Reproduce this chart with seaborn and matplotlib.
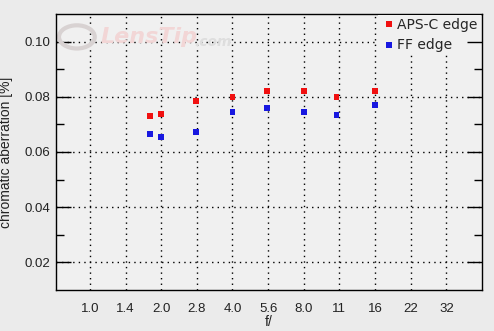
import numpy as np
import pandas as pd
import matplotlib
matplotlib.use("Agg")
import matplotlib.pyplot as plt
from matplotlib.patches import Circle
import seaborn as sns

# data
f_values = [1.8, 2.0, 2.8, 4.0, 5.6, 8.0, 11, 16]
aps_c_edge = [0.0730, 0.0737, 0.0784, 0.0800, 0.0821, 0.0821, 0.0800, 0.0821]
ff_edge = [0.0664, 0.0653, 0.0672, 0.0744, 0.0759, 0.0744, 0.0733, 0.0770]
tick_labels = ["1.0", "1.4", "2.0", "2.8", "4.0", "5.6", "8.0", "11", "16", "22", "32"]
y_ticks = [0.02, 0.04, 0.06, 0.08, 0.10]
y_minor = [0.03, 0.05, 0.07, 0.09]

df = pd.DataFrame({
    "f": f_values * 2,
    "ca": aps_c_edge + ff_edge,
    "series": ["APS-C edge"] * len(f_values) + ["FF edge"] * len(f_values),
})

sns.set_style("white")
plt.rcParams['font.family'] = ['DejaVu Sans']

fig = plt.figure(figsize=(4.94, 3.31), dpi=100, facecolor="#ebebeb")
ax = fig.add_axes([56 / 494, 41 / 331, 426 / 494, 276 / 331])
ax.set_facecolor("#f0f0f0")
ax.set_xscale("log", base=2)

sns.scatterplot(data=df, x="f", y="ca", hue="series",
                palette={"APS-C edge": "#f01010", "FF edge": "#1818e0"},
                marker="s", s=18, linewidth=0, ax=ax, zorder=5)

tick_pos = [2 ** (k / 2) for k in range(len(tick_labels))]
ax.set_xlim(2 ** (-0.475), 2 ** 5.5)
ax.set_ylim(0.01, 0.11)
ax.set_xticks(tick_pos)
ax.set_xticklabels(tick_labels)
ax.xaxis.set_minor_locator(matplotlib.ticker.NullLocator())
ax.set_yticks(y_ticks)
ax.set_yticklabels([f"{v:.2f}" for v in y_ticks])
ax.set_yticks(y_minor, minor=True)

for lab in ax.get_xticklabels() + ax.get_yticklabels():
    lab.set_fontfamily("Liberation Sans")
    lab.set_fontsize(9.5)
    lab.set_color("#222222")

ax.tick_params(axis="x", length=0, pad=9)
ax.tick_params(axis="y", which="major", direction="in", length=11, width=1,
               left=True, right=False, pad=4, color="black")
ax.tick_params(axis="y", which="minor", direction="in", length=6, width=1,
               left=True, right=False, color="black")

ax.grid(True, which="major", color="black", linestyle=(0, (1, 3)), linewidth=1)
for sp in ax.spines.values():
    sp.set_color("black")
    sp.set_linewidth(1)
    sp.set_visible(True)

ax.set_xlabel("f/", fontfamily="Liberation Sans", fontsize=10, labelpad=0, color="#222222")
ax.set_ylabel("chromatic aberration [%]", fontfamily="Liberation Sans", fontsize=10,
              labelpad=8, color="#222222")

leg = ax.legend(loc="upper right", frameon=True, fontsize=10, handletextpad=0.0,
                borderaxespad=0.1, borderpad=0.2, labelspacing=0.45, handlelength=1.2,
                markerscale=1.0, fancybox=False, framealpha=1.0)
leg.get_frame().set_facecolor("#f0f0f0")
leg.get_frame().set_edgecolor("none")

# right-side ticks on a twin axes, drawn above the legend box
ax2 = ax.twinx()
ax2.set_ylim(0.01, 0.11)
ax2.set_yticks(y_ticks)
ax2.set_yticklabels([])
ax2.set_yticks(y_minor, minor=True)
ax2.tick_params(axis="y", which="major", direction="in", length=11, width=1,
                left=False, right=True, color="black")
ax2.tick_params(axis="y", which="minor", direction="in", length=6, width=1,
                left=False, right=True, color="black")
ax2.grid(False)
for sp in ax2.spines.values():
    sp.set_visible(False)

# watermark
ax.add_patch(Circle((0.049, 0.917), 0.042, transform=ax.transAxes, fill=False,
                    edgecolor="#d8d2d2", linewidth=3, zorder=1))
ax.text(0.105, 0.915, "LensTip", transform=ax.transAxes, fontsize=16, fontweight="bold",
        fontstyle="italic", color="#f2d6d6", va="center", ha="left", zorder=1)
ax.text(0.325, 0.9, ".com", transform=ax.transAxes, fontsize=10, fontweight="bold",
        fontstyle="italic", color="#dedede", va="center", ha="left", zorder=1)

fig.savefig("out.png", dpi=100, facecolor=fig.get_facecolor())
